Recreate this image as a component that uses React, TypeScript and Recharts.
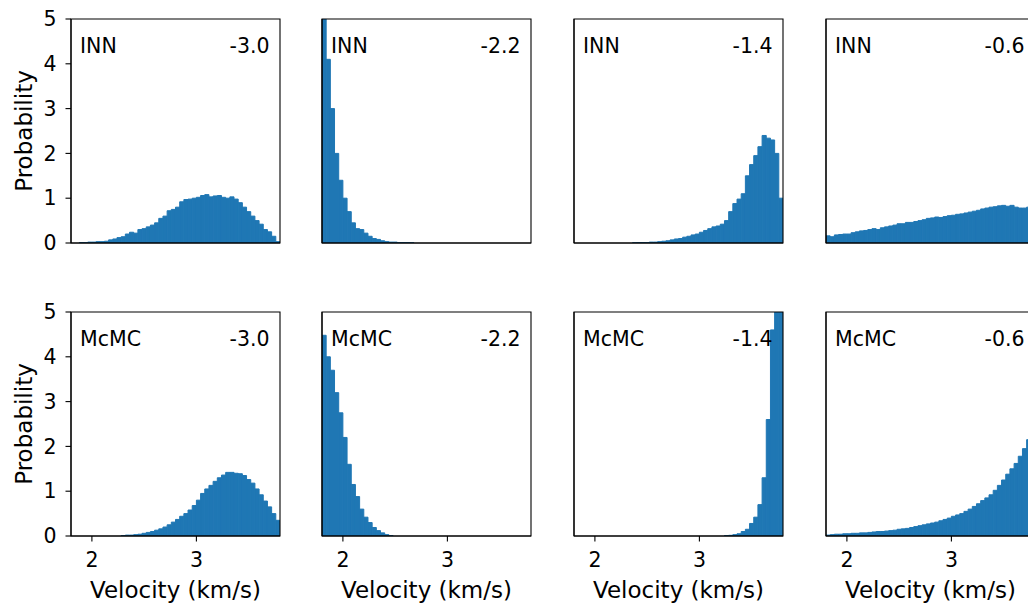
import React from 'react';
import { BarChart, Bar, XAxis, YAxis, ReferenceArea } from 'recharts';

// histogram bins: centre of each 0.04 km/s bin
const binCenters = [
  1.82, 1.86, 1.9, 1.94, 1.98, 2.02, 2.06, 2.1, 2.14, 2.18,
  2.22, 2.26, 2.3, 2.34, 2.38, 2.42, 2.46, 2.5, 2.54, 2.58,
  2.62, 2.66, 2.7, 2.74, 2.78, 2.82, 2.86, 2.9, 2.94, 2.98,
  3.02, 3.06, 3.1, 3.14, 3.18, 3.22, 3.26, 3.3, 3.34, 3.38,
  3.42, 3.46, 3.5, 3.54, 3.58, 3.62, 3.66, 3.7, 3.74, 3.78,
];

const xTicks = [2, 3];
const yTicks = [0, 1, 2, 3, 4, 5];
const velocityDomain: [number, number] = [1.8, 3.8];
const probDomain: [number, number] = [0, 5];

// INN posteriors
const innM30 = [
  0, 0, 0.01, 0.01, 0.02, 0.02, 0.03, 0.03, 0.04, 0.07,
  0.09, 0.12, 0.14, 0.2, 0.24, 0.22, 0.3, 0.32, 0.36, 0.4,
  0.45, 0.55, 0.6, 0.72, 0.75, 0.8, 0.92, 0.97, 0.98, 1.0,
  1.02, 1.06, 1.08, 1.03, 1.05, 1.06, 1.02, 1.0, 1.03, 0.98,
  0.9, 0.8, 0.7, 0.6, 0.5, 0.42, 0.3, 0.25, 0.15, 0.03,
];
const innM22 = [
  6.5, 4.1, 3.0, 2.0, 1.4, 1.0, 0.7, 0.45, 0.32, 0.3,
  0.22, 0.15, 0.1, 0.08, 0.05, 0.03, 0.02, 0.02, 0.01, 0.01,
  0.01, 0.005, 0, 0, 0, 0, 0, 0, 0, 0,
  0, 0, 0, 0, 0, 0, 0, 0, 0, 0,
  0, 0, 0, 0, 0, 0, 0, 0, 0, 0,
];
const innM14 = [
  0, 0, 0, 0, 0, 0, 0, 0, 0, 0,
  0, 0, 0, 0, 0.005, 0.01, 0.01, 0.01, 0.02, 0.02,
  0.03, 0.04, 0.05, 0.07, 0.09, 0.1, 0.13, 0.15, 0.18, 0.2,
  0.24, 0.28, 0.32, 0.36, 0.38, 0.42, 0.5, 0.7, 0.88, 0.98,
  1.1, 1.5, 1.75, 1.95, 2.15, 2.4, 2.34, 2.3, 2.0, 1.0,
];
const innM06 = [
  0.16, 0.14, 0.18, 0.19, 0.2, 0.2, 0.23, 0.25, 0.27, 0.28,
  0.3, 0.32, 0.3, 0.34, 0.36, 0.38, 0.4, 0.43, 0.43, 0.46,
  0.46, 0.48, 0.5, 0.52, 0.55, 0.56, 0.58, 0.57, 0.59, 0.61,
  0.62, 0.64, 0.65, 0.67, 0.69, 0.71, 0.73, 0.76, 0.78, 0.8,
  0.81, 0.83, 0.84, 0.82, 0.84, 0.8, 0.78, 0.78, 0.8, 0.85,
];

// McMC posteriors
const mcmcM30 = [
  0, 0, 0, 0, 0, 0, 0, 0, 0, 0,
  0, 0, 0.01, 0.02, 0.02, 0.03, 0.04, 0.06, 0.08, 0.1,
  0.13, 0.16, 0.2, 0.25, 0.31, 0.37, 0.44, 0.5, 0.58, 0.68,
  0.8, 0.95, 1.05, 1.13, 1.22, 1.3, 1.36, 1.42, 1.42, 1.4,
  1.39, 1.35, 1.26, 1.18, 1.05, 0.92, 0.78, 0.65, 0.5, 0.35,
];
const mcmcM22 = [
  4.48, 4.0, 3.7, 3.2, 2.75, 2.2, 1.6, 1.15, 0.88, 0.6,
  0.42, 0.3, 0.19, 0.12, 0.07, 0.03, 0.01, 0, 0, 0,
  0, 0, 0, 0, 0, 0, 0, 0, 0, 0,
  0, 0, 0, 0, 0, 0, 0, 0, 0, 0,
  0, 0, 0, 0, 0, 0, 0, 0, 0, 0,
];
const mcmcM14 = [
  0, 0, 0, 0, 0, 0, 0, 0, 0, 0,
  0, 0, 0, 0, 0, 0, 0, 0, 0, 0,
  0, 0, 0, 0, 0, 0, 0, 0, 0, 0,
  0, 0, 0, 0, 0, 0, 0.01, 0.015, 0.03, 0.05,
  0.1, 0.15, 0.28, 0.42, 0.7, 1.3, 2.6, 4.6, 7.0, 9.0,
];
const mcmcM06 = [
  0.02, 0.03, 0.04, 0.04, 0.05, 0.05, 0.06, 0.06, 0.07, 0.07,
  0.08, 0.09, 0.1, 0.1, 0.11, 0.12, 0.13, 0.15, 0.16, 0.17,
  0.19, 0.21, 0.23, 0.25, 0.27, 0.29, 0.31, 0.34, 0.37, 0.4,
  0.44, 0.47, 0.5, 0.55, 0.6, 0.66, 0.72, 0.79, 0.85, 0.92,
  1.02, 1.13, 1.25, 1.38, 1.5, 1.62, 1.78, 1.95, 2.15, 2.4,
];

const methods = ['INN', 'McMC'];
const depthLabels = ['-3.0', '-2.2', '-1.4', '-0.6'];
const densities = [
  [innM30, innM22, innM14, innM06],
  [mcmcM30, mcmcM22, mcmcM14, mcmcM06],
];

// layout
const COL_LEFT = [71, 322, 574, 826];
const ROW_TOP = [19, 312];
const PLOT_W = 209;
const PLOT_H = 224;
const Y_AXIS_W = 60;
const X_AXIS_H = 70;
const M_TOP = 18;
const M_RIGHT = 10;

const FONT = '"DejaVu Sans", sans-serif';
const BLUE = '#1f77b4';
const axisLine = { stroke: '#000', strokeWidth: 1.1 };
const tickStyle = { fill: '#000', fontSize: 20.5, fontFamily: FONT };

const Panel = ({ row, col }: { row: number; col: number }) => {
  const data = binCenters.map((v, i) => ({ center: v, density: densities[row][col][i] }));
  const isLeft = col === 0;
  const isBottom = row === 1;
  return (
    <div style={{ position: 'absolute', left: COL_LEFT[col] - Y_AXIS_W, top: ROW_TOP[row] - M_TOP }}>
      <BarChart
        width={Y_AXIS_W + PLOT_W + M_RIGHT}
        height={M_TOP + PLOT_H + X_AXIS_H}
        data={data}
        margin={{ top: M_TOP, right: M_RIGHT, bottom: 0, left: 0 }}
        barCategoryGap={0}
        barGap={0}
      >
        <Bar
          xAxisId="v"
          yAxisId="p"
          dataKey="density"
          fill={BLUE}
          stroke={BLUE}
          strokeWidth={1}
          barSize={PLOT_W / binCenters.length - 0.01}
          isAnimationActive={false}
        />
        <ReferenceArea
          xAxisId="v"
          yAxisId="p"
          x1={velocityDomain[0]}
          x2={velocityDomain[1]}
          y1={probDomain[0]}
          y2={probDomain[1]}
          fill="none"
          fillOpacity={0}
          stroke="#000"
          strokeWidth={1.1}
          zIndex={600}
        />
        <YAxis
          yAxisId="p"
          type="number"
          domain={probDomain}
          ticks={yTicks}
          interval={0}
          allowDataOverflow
          width={Y_AXIS_W}
          axisLine={axisLine}
          tickLine={axisLine}
          tickSize={5.5}
          tickMargin={9}
          tick={isLeft ? tickStyle : false}
          label={
            isLeft
              ? {
                  value: 'Probability',
                  angle: -90,
                  position: 'insideLeft',
                  offset: 13,
                  textAnchor: 'middle',
                  fill: '#000',
                  fontSize: 23,
                  fontFamily: FONT,
                }
              : undefined
          }
        />
        <XAxis
          xAxisId="v"
          dataKey="center"
          type="number"
          domain={velocityDomain}
          ticks={xTicks}
          interval={0}
          allowDataOverflow
          height={X_AXIS_H}
          axisLine={axisLine}
          tickLine={axisLine}
          tickSize={5.5}
          tickMargin={11}
          tick={isBottom ? tickStyle : false}
          label={
            isBottom
              ? {
                  value: 'Velocity (km/s)',
                  position: 'insideBottom',
                  offset: 8,
                  fill: '#000',
                  fontSize: 23,
                  fontFamily: FONT,
                }
              : undefined
          }
        />
      </BarChart>
    </div>
  );
};

export default function App() {
  return (
    <div style={{ position: 'relative', width: 1028, height: 604, overflow: 'hidden', background: '#fff' }}>
      <style>{'body{margin:0}'}</style>
      {methods.map((m, r) => depthLabels.map((d, c) => <Panel key={`${r}-${c}`} row={r} col={c} />))}
      <svg width={1028} height={604} style={{ position: 'absolute', left: 0, top: 0, pointerEvents: 'none' }}>
        {methods.map((m, r) =>
          depthLabels.map((d, c) => (
            <g key={`t-${r}-${c}`} fontFamily={FONT} fontSize={20.5} fill="#000">
              <text x={COL_LEFT[c] + 9} y={ROW_TOP[r] + 34}>{m}</text>
              <text x={COL_LEFT[c] + 198.5} y={ROW_TOP[r] + 34} textAnchor="end">{d}</text>
            </g>
          ))
        )}
      </svg>
    </div>
  );
}
